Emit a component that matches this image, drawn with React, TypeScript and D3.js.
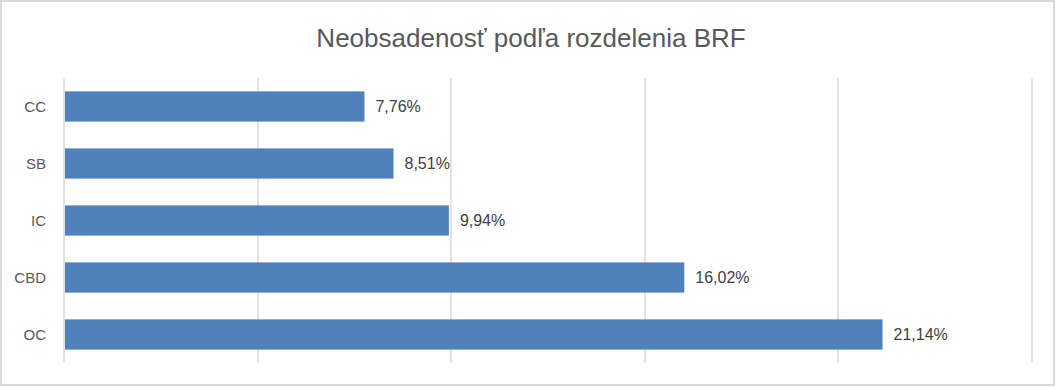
import React from "react";
import * as d3 from "d3";

const categories = ["CC", "SB", "IC", "CBD", "OC"];
const values = [7.76, 8.51, 9.94, 16.02, 21.14];
const xTicks = [0, 5, 10, 15, 20, 25];
const title = "Neobsadenosť podľa rozdelenia BRF";

const W = 1056;
const H = 387;
const font = '"Liberation Sans", "DejaVu Sans", sans-serif';

export default function App() {
  const margin = { top: 78, right: 24, bottom: 24, left: 64 };

  const x = d3.scaleLinear().domain([0, 25]).range([margin.left, 1032]);
  const y = d3
    .scaleBand<string>()
    .domain(categories)
    .range([margin.top, 363])
    .paddingInner(0.47)
    .paddingOuter(0.235);

  const fmt = (v: number) => v.toFixed(2).replace(".", ",") + "%";

  return (
    <svg
      width={W}
      height={H}
      style={{ position: "absolute", left: 0, top: 0, display: "block" }}
    >
      <rect x={1} y={1} width={W - 3} height={H - 3} fill="#fff" stroke="#d9d9d9" strokeWidth={2} />
      <text
        x={531}
        y={47}
        textAnchor="middle"
        fontFamily={font}
        fontSize={26}
        fill="#595959"
      >
        {title}
      </text>
      {/* gridlines */}
      {xTicks.map((t) => (
        <line
          key={t}
          x1={Math.round(x(t))}
          x2={Math.round(x(t))}
          y1={margin.top}
          y2={363}
          stroke="#d9d9d9"
          strokeWidth={1.5}
        />
      ))}
      {categories.map((c, i) => (
        <g key={c}>
          <rect
            x={x(0) + 1}
            y={y(c)}
            width={x(values[i]) - x(0) - 1}
            height={y.bandwidth()}
            fill="#4f81bd"
          />
          <text
            x={46}
            y={(y(c) as number) + y.bandwidth() / 2}
            dy="0.35em"
            textAnchor="end"
            fontFamily={font}
            fontSize={15}
            fill="#595959"
          >
            {c}
          </text>
          <text
            x={x(values[i]) + 11}
            y={(y(c) as number) + y.bandwidth() / 2}
            dy="0.35em"
            fontFamily={font}
            fontSize={16}
            fill="#404040"
          >
            {fmt(values[i])}
          </text>
        </g>
      ))}
    </svg>
  );
}
